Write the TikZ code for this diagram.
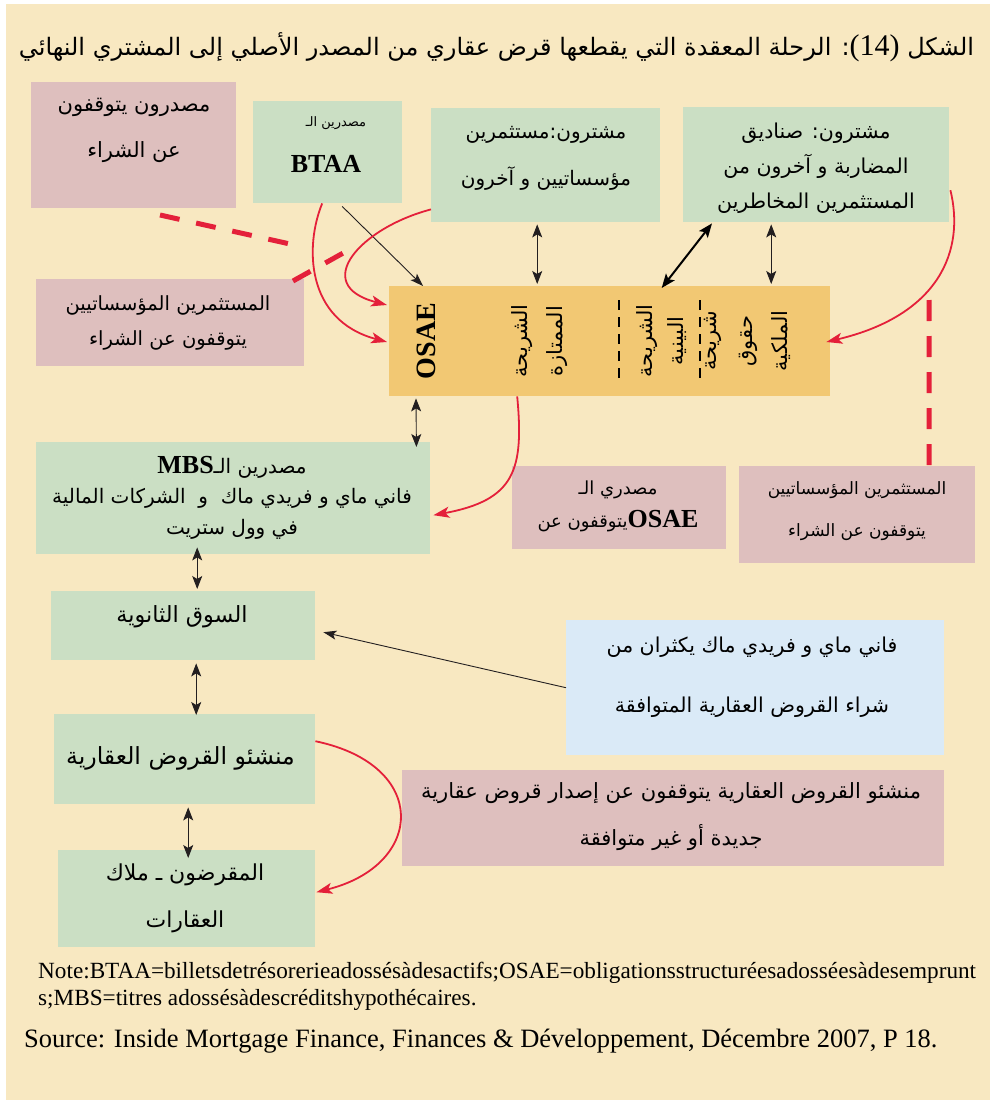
\documentclass[tikz,border=0pt]{standalone}
\usepackage{fontspec}
\setmainfont{Liberation Serif}
\newfontfamily\arfont[Script=Arabic]{DejaVu Sans}
\TeXXeTstate=1
\usetikzlibrary{arrows.meta}
\definecolor{bgc}{HTML}{F8E8C1}
\definecolor{pinkc}{HTML}{DEBFBE}
\definecolor{greenc}{HTML}{CBDFC4}
\definecolor{orangec}{HTML}{F2C873}
\definecolor{bluec}{HTML}{DAEAF7}
\definecolor{redc}{HTML}{E4203A}
\definecolor{inkc}{HTML}{231F20}
\newcommand\AR[1]{{\arfont\beginR #1\endR}}
\newcommand\LT[1]{\beginL{#1}\endL}
\newcommand\fs[2]{\fontsize{#1}{#2}\selectfont}
\newcommand\LB[1]{{\rmfamily\bfseries #1}}
\begin{document}
\begin{tikzpicture}[x=1pt,y=-1pt,
  box/.style={draw=none, inner sep=0pt, anchor=north west},
  txt/.style={align=center, inner sep=0pt, text=black},
  rot/.style={align=center, inner sep=0pt, rotate=90},
  dbl/.style={{Stealth[length=13pt,width=10pt,inset=3pt]}-{Stealth[length=13pt,width=10pt,inset=3pt]}, draw=inkc, line width=0.9pt},
  dblthick/.style={{Stealth[length=14pt,width=11pt,inset=3pt]}-{Stealth[length=14pt,width=11pt,inset=3pt]}, draw=black, line width=2pt},
  sgl/.style={-{Stealth[length=13pt,width=9pt,inset=3pt]}, draw=inkc, line width=0.9pt},
  redarr/.style={-{Stealth[length=16pt,width=11pt,inset=4pt]}, draw=redc, line width=1.8pt},
  reddash/.style={draw=redc, line width=5pt},
  blkdash/.style={draw=black, line width=1.3pt, dash pattern=on 10pt off 7pt}]
\useasboundingbox (0,0) rectangle (993,1102);
\fill[white] (0,0) rectangle (993,1102);
\fill[bgc] (6,4) rectangle (990,1100);

% boxes
\node[box, fill=pinkc, minimum width=205pt, minimum height=126pt] (p1) at (31,82) {};
\node[box, fill=greenc, minimum width=149pt, minimum height=102pt] (btaa) at (253,101) {};
\node[box, fill=greenc, minimum width=229pt, minimum height=114pt] (g3) at (431,108) {};
\node[box, fill=greenc, minimum width=266pt, minimum height=115pt] (g4) at (683,107) {};
\node[box, fill=pinkc, minimum width=268pt, minimum height=87pt] (p2) at (36,279) {};
\node[box, fill=orangec, minimum width=441pt, minimum height=110pt] (osae) at (389,286) {};
\node[box, fill=greenc, minimum width=394pt, minimum height=112pt] (mbs) at (36,442) {};
\node[box, fill=pinkc, minimum width=214pt, minimum height=83pt] (p3) at (512,466) {};
\node[box, fill=pinkc, minimum width=236pt, minimum height=97pt] (p4) at (739,466) {};
\node[box, fill=greenc, minimum width=264pt, minimum height=69pt] (sec) at (51,591) {};
\node[box, fill=bluec, minimum width=378pt, minimum height=135pt] (blue) at (566,620) {};
\node[box, fill=greenc, minimum width=261pt, minimum height=90pt] (orig) at (54,714) {};
\node[box, fill=pinkc, minimum width=542pt, minimum height=96pt] (p5) at (402,770) {};
\node[box, fill=greenc, minimum width=257pt, minimum height=97pt] (bor) at (58,850) {};

% title
\node[txt, font=\fs{24}{24}] (title) at (496.5,47) {\AR{الشكل \LT{\rmfamily\fs{30}{24}(14)}: الرحلة المعقدة التي يقطعها قرض عقاري من المصدر الأصلي إلى المشتري النهائي}};

% texts
\node[txt, font=\fs{21}{46}] (p1t) at (134,130) {\AR{مصدرون يتوقفون}\\\AR{عن الشراء}};
\node[txt, font=\fs{13}{13}] (btaat1) at (336,123) {\AR{مصدرين الـ}};
\node[txt, font=\fs{26}{26}\bfseries] (btaat2) at (326,164) {BTAA};
\node[txt, font=\fs{20}{47}] (g3t) at (546,158.5) {\AR{مشترون:مستثمرين}\\\AR{مؤسساتيين و آخرون}};
\node[txt, font=\fs{20.5}{35}] (g4t) at (816,168) {\AR{مشترون: صناديق}\\\AR{المضاربة و آخرون من}\\\AR{المستثمرين المخاطرين}};
\node[txt, font=\fs{19.5}{35}] (p2t) at (168,322.5) {\AR{المستثمرين المؤسساتيين}\\\AR{يتوقفون عن الشراء}};
\node[rot, font=\fs{28}{28}\bfseries] (osaet) at (426,341) {OSAE};
\node[rot, font=\fs{21}{35}] (tr1) at (540,341) {\AR{الشريحة}\\\AR{الممتازة}};
\node[rot, font=\fs{21}{31}] (tr2) at (661.5,341) {\AR{الشريحة}\\\AR{البينية}};
\node[rot, font=\fs{21}{35.5}] (tr3) at (747.5,341) {\AR{شريحة}\\\AR{حقوق}\\\AR{الملكية}};
\node[txt, font=\fs{20}{30.5}] (mbst) at (232,497.5) {\AR{مصدرين الـ\LT{\fs{26}{26}\LB{MBS}}}\\\AR{فاني ماي و فريدي ماك \ و \ الشركات المالية}\\\AR{في وول ستريت}};
\node[txt, font=\fs{18}{33}] (p3t) at (618,506.5) {\AR{مصدري الـ}\\\AR{\LT{\fs{26}{26}\LB{OSAE}}يتوقفون عن}};
\node[txt, font=\fs{17}{42}] (p4t) at (857,511) {\AR{المستثمرين المؤسساتيين}\\\AR{يتوقفون عن الشراء}};
\node[txt, font=\fs{22.3}{22}] (sect) at (182,617) {\AR{السوق الثانوية}};
\node[txt, font=\fs{20.5}{60}] (bluet) at (752,677) {\AR{فاني ماي و فريدي ماك يكثران من}\\\AR{شراء القروض العقارية المتوافقة}};
\node[txt, font=\fs{23.6}{24}] (origt) at (180.5,758) {\AR{منشئو القروض العقارية}};
\node[txt, font=\fs{21}{47}] (p5t) at (671,816.5) {\AR{منشئو القروض العقارية يتوقفون عن إصدار قروض عقارية}\\\AR{جديدة أو غير متوافقة}};
\node[txt, font=\fs{22}{47}] (bort) at (185,898.5) {\AR{المقرضون ـ ملاك}\\\AR{العقارات}};

% note and source
\node[anchor=west, align=left, inner sep=0pt, font=\fs{23.2}{27}] (note) at (38,986.5) {Note:BTAA=billetsdetrésorerieadossésàdesactifs;OSAE=obligationsstructuréesadosséesàdesemprunt\\s;MBS=titres adossésàdescréditshypothécaires.};
\node[anchor=west, inner sep=0pt, font=\fs{26.5}{26}] (src) at (24,1041) {Source: Inside Mortgage Finance, Finances \& Développement, Décembre 2007, P 18.};

% dashed lines inside OSAE box
\draw[blkdash] ([xshift=230pt,yshift=-14pt]osae.north west) -- ([xshift=230pt,yshift=-92pt]osae.north west);
\draw[blkdash] ([xshift=311pt,yshift=-14pt]osae.north west) -- ([xshift=311pt,yshift=-92pt]osae.north west);

% black connectors
\draw[sgl] ([xshift=14.5pt,yshift=-3pt]btaa.south) -- ([xshift=34pt]osae.north west);
\draw[dbl] ([xshift=-8.5pt,yshift=-2pt]g3.south) -- ([xshift=-72.5pt,yshift=2pt]osae.north);
\draw[dbl] ([xshift=-45pt,yshift=-2pt]g4.south) -- ([xshift=161.5pt,yshift=2pt]osae.north);
\draw[dblthick] ([xshift=29pt,yshift=-1pt]g4.south west) -- ([xshift=52pt,yshift=-2pt]osae.north);
\draw[dbl] ([xshift=27pt,yshift=-2pt]osae.south west) -- ([xshift=-14pt,yshift=-5pt]mbs.north east);
\draw[dbl] ([xshift=-36pt,yshift=7pt]mbs.south) -- ([xshift=14pt,yshift=2pt]sec.north);
\draw[dbl] ([xshift=13pt,yshift=-3pt]sec.south) -- ([xshift=11.5pt,yshift=-1pt]orig.north);
\draw[dbl] ([xshift=3.5pt,yshift=-3pt]orig.south) -- ([xshift=1.5pt,yshift=-8pt]bor.north);
\draw[sgl] (blue.west) -- ([xshift=8pt,yshift=-6.5pt]sec.east);

% red curved connectors
\draw[redarr] ([yshift=13pt]g3.south west) .. controls (360,228) and (310,285) .. ([xshift=-2pt,yshift=-19pt]osae.north west);
\draw[redarr] ([xshift=-5.5pt]btaa.south) .. controls (305,245) and (305,320) .. ([xshift=-2pt,yshift=-56pt]osae.north west);
\draw[redarr] ([xshift=1pt,yshift=-25.5pt]g4.east) .. controls (965,250) and (940,315) .. ([xshift=-4pt,yshift=-56pt]osae.north east);
\draw[redarr] ([xshift=-92.5pt]osae.south) .. controls (524,470) and (515,500) .. ([xshift=3pt,yshift=-17pt]mbs.east);
\draw[redarr] ([yshift=18pt]orig.east) .. controls (430,765) and (425,865) .. ([xshift=1pt,yshift=6.5pt]bor.east);

% red dashed lines
\coordinate (d1a) at (160,215);
\coordinate (d1b) at (290,244);
\coordinate (d2a) at (293,281);
\coordinate (d2b) at (345,252);
\coordinate (d3a) at (929,300);
\coordinate (d3b) at ([xshift=72pt]p4.north);
\draw[reddash, dash pattern=on 20pt off 17pt] (d1a) -- (d1b);
\draw[reddash, dash pattern=on 20pt off 17pt] (d2a) -- (d2b);
\draw[reddash, dash pattern=on 21pt off 15pt] (d3a) -- (d3b);
\end{tikzpicture}
\end{document}
